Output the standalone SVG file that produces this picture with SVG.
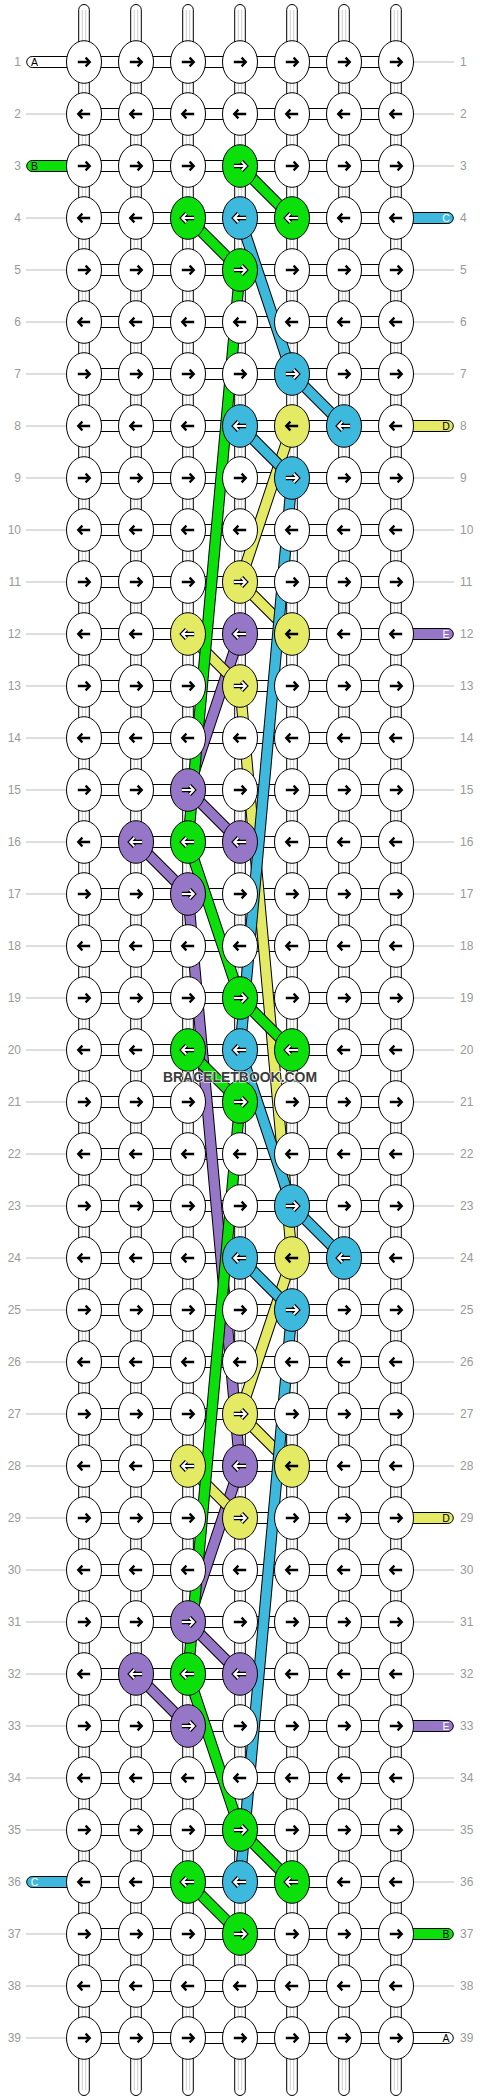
<svg xmlns="http://www.w3.org/2000/svg" width="480" height="2100" viewBox="0 0 480 2100">
<style>
.t{fill:#fff;stroke:#000;stroke-width:1}
.tl{stroke:#cdcdcd;stroke-width:1}
.h{fill:#fff;stroke:#000;stroke-width:1}
.gl{stroke:#bbb;stroke-width:1}
.num{font-family:"Liberation Sans",Arial,sans-serif;font-size:12px;fill:#999}
.numl{text-anchor:end}
.lab{font-family:"Liberation Sans",Arial,sans-serif;font-size:10.5px;text-anchor:middle}
ellipse{rx:17.5px;ry:21.3px;fill:#fff;stroke:#000;stroke-width:1}
.G ellipse{fill:#0be00b}
.B ellipse{fill:#3cb9dc}
.Y ellipse{fill:#e5ea64}
.P ellipse{fill:#9676c6}
.ab{fill:none;stroke:#000;stroke-width:2.3}
.ao{fill:none;stroke:#000;stroke-width:4.3}
.aw{fill:none;stroke:#fff;stroke-width:2}
.ln polyline{fill:none;stroke-linejoin:round}
.ln .o{stroke:#000;stroke-width:11.5}
.cg{stroke:#0be00b;stroke-width:9.5}
.cb{stroke:#3cb9dc;stroke-width:9.5}
.cy{stroke:#e5ea64;stroke-width:9.5}
.cp{stroke:#9676c6;stroke-width:9.5}
.sg{fill:#0be00b;stroke:#000}
.sb{fill:#3cb9dc;stroke:#000}
.sy{fill:#e5ea64;stroke:#000}
.sp{fill:#9676c6;stroke:#000}
.sw{fill:#fff;stroke:#000}
</style>
<defs>
<path id="pr" d="M-6.2,0H5.2M1.6,-4.4L5.8,0L1.6,4.4"/>
<path id="pl" d="M6.2,0H-5.2M-1.6,-4.4L-5.8,0L-1.6,4.4"/>
<g id="R" class="ab"><use href="#pr"/></g>
<g id="L" class="ab"><use href="#pl"/></g>
<g id="RW"><use href="#pr" class="ao"/><use href="#pr" class="aw"/></g>
<g id="LW"><use href="#pl" class="ao"/><use href="#pl" class="aw"/></g>
</defs>
<rect width="480" height="2100" fill="#fff"/>
<g id="strings">
<rect class="t" x="78.7" y="4.5" width="10.6" height="2091" rx="5.3"/>
<rect class="t" x="130.7" y="4.5" width="10.6" height="2091" rx="5.3"/>
<rect class="t" x="182.7" y="4.5" width="10.6" height="2091" rx="5.3"/>
<rect class="t" x="234.7" y="4.5" width="10.6" height="2091" rx="5.3"/>
<rect class="t" x="286.7" y="4.5" width="10.6" height="2091" rx="5.3"/>
<rect class="t" x="338.7" y="4.5" width="10.6" height="2091" rx="5.3"/>
<rect class="t" x="390.7" y="4.5" width="10.6" height="2091" rx="5.3"/>
<path class="tl" d="M82.3,10V2090M85.7,10V2090M134.3,10V2090M137.7,10V2090M186.3,10V2090M189.7,10V2090M238.3,10V2090M241.7,10V2090M290.3,10V2090M293.7,10V2090M342.3,10V2090M345.7,10V2090M394.3,10V2090M397.7,10V2090"/>
</g>
<g id="rows">
<g class="h">
<rect x="84" y="56.5" width="312" height="11"/><rect x="84" y="108.5" width="312" height="11"/><rect x="84" y="160.5" width="312" height="11"/><rect x="84" y="212.5" width="312" height="11"/><rect x="84" y="264.5" width="312" height="11"/><rect x="84" y="316.5" width="312" height="11"/><rect x="84" y="368.5" width="312" height="11"/><rect x="84" y="420.5" width="312" height="11"/><rect x="84" y="472.5" width="312" height="11"/><rect x="84" y="524.5" width="312" height="11"/><rect x="84" y="576.5" width="312" height="11"/><rect x="84" y="628.5" width="312" height="11"/><rect x="84" y="680.5" width="312" height="11"/>
<rect x="84" y="732.5" width="312" height="11"/><rect x="84" y="784.5" width="312" height="11"/><rect x="84" y="836.5" width="312" height="11"/><rect x="84" y="888.5" width="312" height="11"/><rect x="84" y="940.5" width="312" height="11"/><rect x="84" y="992.5" width="312" height="11"/><rect x="84" y="1044.5" width="312" height="11"/><rect x="84" y="1096.5" width="312" height="11"/><rect x="84" y="1148.5" width="312" height="11"/><rect x="84" y="1200.5" width="312" height="11"/><rect x="84" y="1252.5" width="312" height="11"/><rect x="84" y="1304.5" width="312" height="11"/><rect x="84" y="1356.5" width="312" height="11"/>
<rect x="84" y="1408.5" width="312" height="11"/><rect x="84" y="1460.5" width="312" height="11"/><rect x="84" y="1512.5" width="312" height="11"/><rect x="84" y="1564.5" width="312" height="11"/><rect x="84" y="1616.5" width="312" height="11"/><rect x="84" y="1668.5" width="312" height="11"/><rect x="84" y="1720.5" width="312" height="11"/><rect x="84" y="1772.5" width="312" height="11"/><rect x="84" y="1824.5" width="312" height="11"/><rect x="84" y="1876.5" width="312" height="11"/><rect x="84" y="1928.5" width="312" height="11"/><rect x="84" y="1980.5" width="312" height="11"/><rect x="84" y="2032.5" width="312" height="11"/>
</g>
<path class="gl" d="M26,114H68M26,218H68M26,270H68M26,322H68M26,374H68M26,426H68M26,478H68M26,530H68M26,582H68M26,634H68M26,686H68M26,738H68M26,790H68M26,842H68M26,894H68M26,946H68M26,998H68M26,1050H68M26,1102H68M26,1154H68M26,1206H68M26,1258H68M26,1310H68M26,1362H68M26,1414H68M26,1466H68M26,1518H68M26,1570H68M26,1622H68M26,1674H68M26,1726H68M26,1778H68M26,1830H68M26,1934H68M26,1986H68M26,2038H68"/>
<path class="gl" d="M412,62H454M412,114H454M412,166H454M412,270H454M412,322H454M412,374H454M412,478H454M412,530H454M412,582H454M412,686H454M412,738H454M412,790H454M412,842H454M412,894H454M412,946H454M412,998H454M412,1050H454M412,1102H454M412,1154H454M412,1206H454M412,1258H454M412,1310H454M412,1362H454M412,1414H454M412,1466H454M412,1570H454M412,1622H454M412,1674H454M412,1778H454M412,1830H454M412,1882H454M412,1986H454"/>
<g id="stubs">
<path class="sw" d="M68,56.5H32.2a5.5,5.5 0 0 0 0,11H68z"/><text class="lab" x="34.5" y="65.8" fill="#000">A</text>
<path class="sg" d="M68,160.5H32.2a5.5,5.5 0 0 0 0,11H68z"/><text class="lab" x="34.5" y="169.8" fill="#000">B</text>
<path class="sb" d="M68,1876.5H32.2a5.5,5.5 0 0 0 0,11H68z"/><text class="lab" x="34.5" y="1885.8" fill="#fff">C</text>
<path class="sb" d="M412,212.5H447.8a5.5,5.5 0 0 1 0,11H412z"/><text class="lab" x="446" y="221.8" fill="#fff">C</text>
<path class="sy" d="M412,420.5H447.8a5.5,5.5 0 0 1 0,11H412z"/><text class="lab" x="446" y="429.8" fill="#000">D</text>
<path class="sp" d="M412,628.5H447.8a5.5,5.5 0 0 1 0,11H412z"/><text class="lab" x="446" y="637.8" fill="#fff">E</text>
<path class="sy" d="M412,1512.5H447.8a5.5,5.5 0 0 1 0,11H412z"/><text class="lab" x="446" y="1521.8" fill="#000">D</text>
<path class="sp" d="M412,1720.5H447.8a5.5,5.5 0 0 1 0,11H412z"/><text class="lab" x="446" y="1729.8" fill="#fff">E</text>
<path class="sg" d="M412,1928.5H447.8a5.5,5.5 0 0 1 0,11H412z"/><text class="lab" x="446" y="1937.8" fill="#000">B</text>
<path class="sw" d="M412,2032.5H447.8a5.5,5.5 0 0 1 0,11H412z"/><text class="lab" x="446" y="2041.8" fill="#000">A</text>
</g>
<g class="num numl">
<text x="21" y="66.3">1</text><text x="21" y="118.3">2</text><text x="21" y="170.3">3</text><text x="21" y="222.3">4</text><text x="21" y="274.3">5</text><text x="21" y="326.3">6</text><text x="21" y="378.3">7</text><text x="21" y="430.3">8</text><text x="21" y="482.3">9</text><text x="21" y="534.3">10</text><text x="21" y="586.3">11</text><text x="21" y="638.3">12</text><text x="21" y="690.3">13</text>
<text x="21" y="742.3">14</text><text x="21" y="794.3">15</text><text x="21" y="846.3">16</text><text x="21" y="898.3">17</text><text x="21" y="950.3">18</text><text x="21" y="1002.3">19</text><text x="21" y="1054.3">20</text><text x="21" y="1106.3">21</text><text x="21" y="1158.3">22</text><text x="21" y="1210.3">23</text><text x="21" y="1262.3">24</text><text x="21" y="1314.3">25</text><text x="21" y="1366.3">26</text>
<text x="21" y="1418.3">27</text><text x="21" y="1470.3">28</text><text x="21" y="1522.3">29</text><text x="21" y="1574.3">30</text><text x="21" y="1626.3">31</text><text x="21" y="1678.3">32</text><text x="21" y="1730.3">33</text><text x="21" y="1782.3">34</text><text x="21" y="1834.3">35</text><text x="21" y="1886.3">36</text><text x="21" y="1938.3">37</text><text x="21" y="1990.3">38</text><text x="21" y="2042.3">39</text>
</g>
<g class="num">
<text x="460" y="66.3">1</text><text x="460" y="118.3">2</text><text x="460" y="170.3">3</text><text x="460" y="222.3">4</text><text x="460" y="274.3">5</text><text x="460" y="326.3">6</text><text x="460" y="378.3">7</text><text x="460" y="430.3">8</text><text x="460" y="482.3">9</text><text x="460" y="534.3">10</text><text x="460" y="586.3">11</text><text x="460" y="638.3">12</text><text x="460" y="690.3">13</text>
<text x="460" y="742.3">14</text><text x="460" y="794.3">15</text><text x="460" y="846.3">16</text><text x="460" y="898.3">17</text><text x="460" y="950.3">18</text><text x="460" y="1002.3">19</text><text x="460" y="1054.3">20</text><text x="460" y="1106.3">21</text><text x="460" y="1158.3">22</text><text x="460" y="1210.3">23</text><text x="460" y="1262.3">24</text><text x="460" y="1314.3">25</text><text x="460" y="1366.3">26</text>
<text x="460" y="1418.3">27</text><text x="460" y="1470.3">28</text><text x="460" y="1522.3">29</text><text x="460" y="1574.3">30</text><text x="460" y="1626.3">31</text><text x="460" y="1678.3">32</text><text x="460" y="1730.3">33</text><text x="460" y="1782.3">34</text><text x="460" y="1834.3">35</text><text x="460" y="1886.3">36</text><text x="460" y="1938.3">37</text><text x="460" y="1990.3">38</text><text x="460" y="2042.3">39</text>
</g>
</g>
<g id="connectors" class="ln">
<polyline class="o" points="240,634 188,790 240,842"/><polyline class="cp" points="240,634 188,790 240,842"/>
<polyline class="o" points="136,842 188,894 240,1466 188,1622 240,1674"/><polyline class="cp" points="136,842 188,894 240,1466 188,1622 240,1674"/>
<polyline class="o" points="136,1674 188,1726"/><polyline class="cp" points="136,1674 188,1726"/>
<polyline class="o" points="292,426 240,582 292,634"/><polyline class="cy" points="292,426 240,582 292,634"/>
<polyline class="o" points="188,634 240,686 292,1258 240,1414 292,1466"/><polyline class="cy" points="188,634 240,686 292,1258 240,1414 292,1466"/>
<polyline class="o" points="188,1466 240,1518"/><polyline class="cy" points="188,1466 240,1518"/>
<polyline class="o" points="240,218 292,374 344,426"/><polyline class="cb" points="240,218 292,374 344,426"/>
<polyline class="o" points="240,426 292,478 240,1050 292,1206 344,1258"/><polyline class="cb" points="240,426 292,478 240,1050 292,1206 344,1258"/>
<polyline class="o" points="240,1258 292,1310 240,1882"/><polyline class="cb" points="240,1258 292,1310 240,1882"/>
<polyline class="o" points="240,166 292,218"/><polyline class="cg" points="240,166 292,218"/>
<polyline class="o" points="188,218 240,270 188,842 240,998 292,1050"/><polyline class="cg" points="188,218 240,270 188,842 240,998 292,1050"/>
<polyline class="o" points="188,1050 240,1102 188,1674 240,1830 292,1882"/><polyline class="cg" points="188,1050 240,1102 188,1674 240,1830 292,1882"/>
<polyline class="o" points="188,1882 240,1934"/><polyline class="cg" points="188,1882 240,1934"/>
</g>
<g id="nodes">
<g id="n1-1" transform="translate(84 62)"><ellipse/><use href="#R"/></g><g id="n1-2" transform="translate(136 62)"><ellipse/><use href="#R"/></g><g id="n1-3" transform="translate(188 62)"><ellipse/><use href="#R"/></g><g id="n1-4" transform="translate(240 62)"><ellipse/><use href="#R"/></g><g id="n1-5" transform="translate(292 62)"><ellipse/><use href="#R"/></g><g id="n1-6" transform="translate(344 62)"><ellipse/><use href="#R"/></g><g id="n1-7" transform="translate(396 62)"><ellipse/><use href="#R"/></g>
<g id="n2-1" transform="translate(84 114)"><ellipse/><use href="#L"/></g><g id="n2-2" transform="translate(136 114)"><ellipse/><use href="#L"/></g><g id="n2-3" transform="translate(188 114)"><ellipse/><use href="#L"/></g><g id="n2-4" transform="translate(240 114)"><ellipse/><use href="#L"/></g><g id="n2-5" transform="translate(292 114)"><ellipse/><use href="#L"/></g><g id="n2-6" transform="translate(344 114)"><ellipse/><use href="#L"/></g><g id="n2-7" transform="translate(396 114)"><ellipse/><use href="#L"/></g>
<g id="n3-1" transform="translate(84 166)"><ellipse/><use href="#R"/></g><g id="n3-2" transform="translate(136 166)"><ellipse/><use href="#R"/></g><g id="n3-3" transform="translate(188 166)"><ellipse/><use href="#R"/></g><g id="n3-4" class="G" transform="translate(240 166)"><ellipse/><use href="#RW"/></g><g id="n3-5" transform="translate(292 166)"><ellipse/><use href="#R"/></g><g id="n3-6" transform="translate(344 166)"><ellipse/><use href="#R"/></g><g id="n3-7" transform="translate(396 166)"><ellipse/><use href="#R"/></g>
<g id="n4-1" transform="translate(84 218)"><ellipse/><use href="#L"/></g><g id="n4-2" transform="translate(136 218)"><ellipse/><use href="#L"/></g><g id="n4-3" class="G" transform="translate(188 218)"><ellipse/><use href="#LW"/></g><g id="n4-4" class="B" transform="translate(240 218)"><ellipse/><use href="#LW"/></g><g id="n4-5" class="G" transform="translate(292 218)"><ellipse/><use href="#LW"/></g><g id="n4-6" transform="translate(344 218)"><ellipse/><use href="#L"/></g><g id="n4-7" transform="translate(396 218)"><ellipse/><use href="#L"/></g>
<g id="n5-1" transform="translate(84 270)"><ellipse/><use href="#R"/></g><g id="n5-2" transform="translate(136 270)"><ellipse/><use href="#R"/></g><g id="n5-3" transform="translate(188 270)"><ellipse/><use href="#R"/></g><g id="n5-4" class="G" transform="translate(240 270)"><ellipse/><use href="#RW"/></g><g id="n5-5" transform="translate(292 270)"><ellipse/><use href="#R"/></g><g id="n5-6" transform="translate(344 270)"><ellipse/><use href="#R"/></g><g id="n5-7" transform="translate(396 270)"><ellipse/><use href="#R"/></g>
<g id="n6-1" transform="translate(84 322)"><ellipse/><use href="#L"/></g><g id="n6-2" transform="translate(136 322)"><ellipse/><use href="#L"/></g><g id="n6-3" transform="translate(188 322)"><ellipse/><use href="#L"/></g><g id="n6-4" transform="translate(240 322)"><ellipse/><use href="#L"/></g><g id="n6-5" transform="translate(292 322)"><ellipse/><use href="#L"/></g><g id="n6-6" transform="translate(344 322)"><ellipse/><use href="#L"/></g><g id="n6-7" transform="translate(396 322)"><ellipse/><use href="#L"/></g>
<g id="n7-1" transform="translate(84 374)"><ellipse/><use href="#R"/></g><g id="n7-2" transform="translate(136 374)"><ellipse/><use href="#R"/></g><g id="n7-3" transform="translate(188 374)"><ellipse/><use href="#R"/></g><g id="n7-4" transform="translate(240 374)"><ellipse/><use href="#R"/></g><g id="n7-5" class="B" transform="translate(292 374)"><ellipse/><use href="#RW"/></g><g id="n7-6" transform="translate(344 374)"><ellipse/><use href="#R"/></g><g id="n7-7" transform="translate(396 374)"><ellipse/><use href="#R"/></g>
<g id="n8-1" transform="translate(84 426)"><ellipse/><use href="#L"/></g><g id="n8-2" transform="translate(136 426)"><ellipse/><use href="#L"/></g><g id="n8-3" transform="translate(188 426)"><ellipse/><use href="#L"/></g><g id="n8-4" class="B" transform="translate(240 426)"><ellipse/><use href="#LW"/></g><g id="n8-5" class="Y" transform="translate(292 426)"><ellipse/><use href="#L"/></g><g id="n8-6" class="B" transform="translate(344 426)"><ellipse/><use href="#LW"/></g><g id="n8-7" transform="translate(396 426)"><ellipse/><use href="#L"/></g>
<g id="n9-1" transform="translate(84 478)"><ellipse/><use href="#R"/></g><g id="n9-2" transform="translate(136 478)"><ellipse/><use href="#R"/></g><g id="n9-3" transform="translate(188 478)"><ellipse/><use href="#R"/></g><g id="n9-4" transform="translate(240 478)"><ellipse/><use href="#R"/></g><g id="n9-5" class="B" transform="translate(292 478)"><ellipse/><use href="#RW"/></g><g id="n9-6" transform="translate(344 478)"><ellipse/><use href="#R"/></g><g id="n9-7" transform="translate(396 478)"><ellipse/><use href="#R"/></g>
<g id="n10-1" transform="translate(84 530)"><ellipse/><use href="#L"/></g><g id="n10-2" transform="translate(136 530)"><ellipse/><use href="#L"/></g><g id="n10-3" transform="translate(188 530)"><ellipse/><use href="#L"/></g><g id="n10-4" transform="translate(240 530)"><ellipse/><use href="#L"/></g><g id="n10-5" transform="translate(292 530)"><ellipse/><use href="#L"/></g><g id="n10-6" transform="translate(344 530)"><ellipse/><use href="#L"/></g><g id="n10-7" transform="translate(396 530)"><ellipse/><use href="#L"/></g>
<g id="n11-1" transform="translate(84 582)"><ellipse/><use href="#R"/></g><g id="n11-2" transform="translate(136 582)"><ellipse/><use href="#R"/></g><g id="n11-3" transform="translate(188 582)"><ellipse/><use href="#R"/></g><g id="n11-4" class="Y" transform="translate(240 582)"><ellipse/><use href="#RW"/></g><g id="n11-5" transform="translate(292 582)"><ellipse/><use href="#R"/></g><g id="n11-6" transform="translate(344 582)"><ellipse/><use href="#R"/></g><g id="n11-7" transform="translate(396 582)"><ellipse/><use href="#R"/></g>
<g id="n12-1" transform="translate(84 634)"><ellipse/><use href="#L"/></g><g id="n12-2" transform="translate(136 634)"><ellipse/><use href="#L"/></g><g id="n12-3" class="Y" transform="translate(188 634)"><ellipse/><use href="#LW"/></g><g id="n12-4" class="P" transform="translate(240 634)"><ellipse/><use href="#LW"/></g><g id="n12-5" class="Y" transform="translate(292 634)"><ellipse/><use href="#L"/></g><g id="n12-6" transform="translate(344 634)"><ellipse/><use href="#L"/></g><g id="n12-7" transform="translate(396 634)"><ellipse/><use href="#L"/></g>
<g id="n13-1" transform="translate(84 686)"><ellipse/><use href="#R"/></g><g id="n13-2" transform="translate(136 686)"><ellipse/><use href="#R"/></g><g id="n13-3" transform="translate(188 686)"><ellipse/><use href="#R"/></g><g id="n13-4" class="Y" transform="translate(240 686)"><ellipse/><use href="#RW"/></g><g id="n13-5" transform="translate(292 686)"><ellipse/><use href="#R"/></g><g id="n13-6" transform="translate(344 686)"><ellipse/><use href="#R"/></g><g id="n13-7" transform="translate(396 686)"><ellipse/><use href="#R"/></g>
<g id="n14-1" transform="translate(84 738)"><ellipse/><use href="#L"/></g><g id="n14-2" transform="translate(136 738)"><ellipse/><use href="#L"/></g><g id="n14-3" transform="translate(188 738)"><ellipse/><use href="#L"/></g><g id="n14-4" transform="translate(240 738)"><ellipse/><use href="#L"/></g><g id="n14-5" transform="translate(292 738)"><ellipse/><use href="#L"/></g><g id="n14-6" transform="translate(344 738)"><ellipse/><use href="#L"/></g><g id="n14-7" transform="translate(396 738)"><ellipse/><use href="#L"/></g>
<g id="n15-1" transform="translate(84 790)"><ellipse/><use href="#R"/></g><g id="n15-2" transform="translate(136 790)"><ellipse/><use href="#R"/></g><g id="n15-3" class="P" transform="translate(188 790)"><ellipse/><use href="#RW"/></g><g id="n15-4" transform="translate(240 790)"><ellipse/><use href="#R"/></g><g id="n15-5" transform="translate(292 790)"><ellipse/><use href="#R"/></g><g id="n15-6" transform="translate(344 790)"><ellipse/><use href="#R"/></g><g id="n15-7" transform="translate(396 790)"><ellipse/><use href="#R"/></g>
<g id="n16-1" transform="translate(84 842)"><ellipse/><use href="#L"/></g><g id="n16-2" class="P" transform="translate(136 842)"><ellipse/><use href="#LW"/></g><g id="n16-3" class="G" transform="translate(188 842)"><ellipse/><use href="#LW"/></g><g id="n16-4" class="P" transform="translate(240 842)"><ellipse/><use href="#LW"/></g><g id="n16-5" transform="translate(292 842)"><ellipse/><use href="#L"/></g><g id="n16-6" transform="translate(344 842)"><ellipse/><use href="#L"/></g><g id="n16-7" transform="translate(396 842)"><ellipse/><use href="#L"/></g>
<g id="n17-1" transform="translate(84 894)"><ellipse/><use href="#R"/></g><g id="n17-2" transform="translate(136 894)"><ellipse/><use href="#R"/></g><g id="n17-3" class="P" transform="translate(188 894)"><ellipse/><use href="#RW"/></g><g id="n17-4" transform="translate(240 894)"><ellipse/><use href="#R"/></g><g id="n17-5" transform="translate(292 894)"><ellipse/><use href="#R"/></g><g id="n17-6" transform="translate(344 894)"><ellipse/><use href="#R"/></g><g id="n17-7" transform="translate(396 894)"><ellipse/><use href="#R"/></g>
<g id="n18-1" transform="translate(84 946)"><ellipse/><use href="#L"/></g><g id="n18-2" transform="translate(136 946)"><ellipse/><use href="#L"/></g><g id="n18-3" transform="translate(188 946)"><ellipse/><use href="#L"/></g><g id="n18-4" transform="translate(240 946)"><ellipse/><use href="#L"/></g><g id="n18-5" transform="translate(292 946)"><ellipse/><use href="#L"/></g><g id="n18-6" transform="translate(344 946)"><ellipse/><use href="#L"/></g><g id="n18-7" transform="translate(396 946)"><ellipse/><use href="#L"/></g>
<g id="n19-1" transform="translate(84 998)"><ellipse/><use href="#R"/></g><g id="n19-2" transform="translate(136 998)"><ellipse/><use href="#R"/></g><g id="n19-3" transform="translate(188 998)"><ellipse/><use href="#R"/></g><g id="n19-4" class="G" transform="translate(240 998)"><ellipse/><use href="#RW"/></g><g id="n19-5" transform="translate(292 998)"><ellipse/><use href="#R"/></g><g id="n19-6" transform="translate(344 998)"><ellipse/><use href="#R"/></g><g id="n19-7" transform="translate(396 998)"><ellipse/><use href="#R"/></g>
<g id="n20-1" transform="translate(84 1050)"><ellipse/><use href="#L"/></g><g id="n20-2" transform="translate(136 1050)"><ellipse/><use href="#L"/></g><g id="n20-3" class="G" transform="translate(188 1050)"><ellipse/><use href="#LW"/></g><g id="n20-4" class="B" transform="translate(240 1050)"><ellipse/><use href="#LW"/></g><g id="n20-5" class="G" transform="translate(292 1050)"><ellipse/><use href="#LW"/></g><g id="n20-6" transform="translate(344 1050)"><ellipse/><use href="#L"/></g><g id="n20-7" transform="translate(396 1050)"><ellipse/><use href="#L"/></g>
<g id="n21-1" transform="translate(84 1102)"><ellipse/><use href="#R"/></g><g id="n21-2" transform="translate(136 1102)"><ellipse/><use href="#R"/></g><g id="n21-3" transform="translate(188 1102)"><ellipse/><use href="#R"/></g><g id="n21-4" class="G" transform="translate(240 1102)"><ellipse/><use href="#RW"/></g><g id="n21-5" transform="translate(292 1102)"><ellipse/><use href="#R"/></g><g id="n21-6" transform="translate(344 1102)"><ellipse/><use href="#R"/></g><g id="n21-7" transform="translate(396 1102)"><ellipse/><use href="#R"/></g>
<g id="n22-1" transform="translate(84 1154)"><ellipse/><use href="#L"/></g><g id="n22-2" transform="translate(136 1154)"><ellipse/><use href="#L"/></g><g id="n22-3" transform="translate(188 1154)"><ellipse/><use href="#L"/></g><g id="n22-4" transform="translate(240 1154)"><ellipse/><use href="#L"/></g><g id="n22-5" transform="translate(292 1154)"><ellipse/><use href="#L"/></g><g id="n22-6" transform="translate(344 1154)"><ellipse/><use href="#L"/></g><g id="n22-7" transform="translate(396 1154)"><ellipse/><use href="#L"/></g>
<g id="n23-1" transform="translate(84 1206)"><ellipse/><use href="#R"/></g><g id="n23-2" transform="translate(136 1206)"><ellipse/><use href="#R"/></g><g id="n23-3" transform="translate(188 1206)"><ellipse/><use href="#R"/></g><g id="n23-4" transform="translate(240 1206)"><ellipse/><use href="#R"/></g><g id="n23-5" class="B" transform="translate(292 1206)"><ellipse/><use href="#RW"/></g><g id="n23-6" transform="translate(344 1206)"><ellipse/><use href="#R"/></g><g id="n23-7" transform="translate(396 1206)"><ellipse/><use href="#R"/></g>
<g id="n24-1" transform="translate(84 1258)"><ellipse/><use href="#L"/></g><g id="n24-2" transform="translate(136 1258)"><ellipse/><use href="#L"/></g><g id="n24-3" transform="translate(188 1258)"><ellipse/><use href="#L"/></g><g id="n24-4" class="B" transform="translate(240 1258)"><ellipse/><use href="#LW"/></g><g id="n24-5" class="Y" transform="translate(292 1258)"><ellipse/><use href="#L"/></g><g id="n24-6" class="B" transform="translate(344 1258)"><ellipse/><use href="#LW"/></g><g id="n24-7" transform="translate(396 1258)"><ellipse/><use href="#L"/></g>
<g id="n25-1" transform="translate(84 1310)"><ellipse/><use href="#R"/></g><g id="n25-2" transform="translate(136 1310)"><ellipse/><use href="#R"/></g><g id="n25-3" transform="translate(188 1310)"><ellipse/><use href="#R"/></g><g id="n25-4" transform="translate(240 1310)"><ellipse/><use href="#R"/></g><g id="n25-5" class="B" transform="translate(292 1310)"><ellipse/><use href="#RW"/></g><g id="n25-6" transform="translate(344 1310)"><ellipse/><use href="#R"/></g><g id="n25-7" transform="translate(396 1310)"><ellipse/><use href="#R"/></g>
<g id="n26-1" transform="translate(84 1362)"><ellipse/><use href="#L"/></g><g id="n26-2" transform="translate(136 1362)"><ellipse/><use href="#L"/></g><g id="n26-3" transform="translate(188 1362)"><ellipse/><use href="#L"/></g><g id="n26-4" transform="translate(240 1362)"><ellipse/><use href="#L"/></g><g id="n26-5" transform="translate(292 1362)"><ellipse/><use href="#L"/></g><g id="n26-6" transform="translate(344 1362)"><ellipse/><use href="#L"/></g><g id="n26-7" transform="translate(396 1362)"><ellipse/><use href="#L"/></g>
<g id="n27-1" transform="translate(84 1414)"><ellipse/><use href="#R"/></g><g id="n27-2" transform="translate(136 1414)"><ellipse/><use href="#R"/></g><g id="n27-3" transform="translate(188 1414)"><ellipse/><use href="#R"/></g><g id="n27-4" class="Y" transform="translate(240 1414)"><ellipse/><use href="#RW"/></g><g id="n27-5" transform="translate(292 1414)"><ellipse/><use href="#R"/></g><g id="n27-6" transform="translate(344 1414)"><ellipse/><use href="#R"/></g><g id="n27-7" transform="translate(396 1414)"><ellipse/><use href="#R"/></g>
<g id="n28-1" transform="translate(84 1466)"><ellipse/><use href="#L"/></g><g id="n28-2" transform="translate(136 1466)"><ellipse/><use href="#L"/></g><g id="n28-3" class="Y" transform="translate(188 1466)"><ellipse/><use href="#LW"/></g><g id="n28-4" class="P" transform="translate(240 1466)"><ellipse/><use href="#LW"/></g><g id="n28-5" class="Y" transform="translate(292 1466)"><ellipse/><use href="#L"/></g><g id="n28-6" transform="translate(344 1466)"><ellipse/><use href="#L"/></g><g id="n28-7" transform="translate(396 1466)"><ellipse/><use href="#L"/></g>
<g id="n29-1" transform="translate(84 1518)"><ellipse/><use href="#R"/></g><g id="n29-2" transform="translate(136 1518)"><ellipse/><use href="#R"/></g><g id="n29-3" transform="translate(188 1518)"><ellipse/><use href="#R"/></g><g id="n29-4" class="Y" transform="translate(240 1518)"><ellipse/><use href="#RW"/></g><g id="n29-5" transform="translate(292 1518)"><ellipse/><use href="#R"/></g><g id="n29-6" transform="translate(344 1518)"><ellipse/><use href="#R"/></g><g id="n29-7" transform="translate(396 1518)"><ellipse/><use href="#R"/></g>
<g id="n30-1" transform="translate(84 1570)"><ellipse/><use href="#L"/></g><g id="n30-2" transform="translate(136 1570)"><ellipse/><use href="#L"/></g><g id="n30-3" transform="translate(188 1570)"><ellipse/><use href="#L"/></g><g id="n30-4" transform="translate(240 1570)"><ellipse/><use href="#L"/></g><g id="n30-5" transform="translate(292 1570)"><ellipse/><use href="#L"/></g><g id="n30-6" transform="translate(344 1570)"><ellipse/><use href="#L"/></g><g id="n30-7" transform="translate(396 1570)"><ellipse/><use href="#L"/></g>
<g id="n31-1" transform="translate(84 1622)"><ellipse/><use href="#R"/></g><g id="n31-2" transform="translate(136 1622)"><ellipse/><use href="#R"/></g><g id="n31-3" class="P" transform="translate(188 1622)"><ellipse/><use href="#RW"/></g><g id="n31-4" transform="translate(240 1622)"><ellipse/><use href="#R"/></g><g id="n31-5" transform="translate(292 1622)"><ellipse/><use href="#R"/></g><g id="n31-6" transform="translate(344 1622)"><ellipse/><use href="#R"/></g><g id="n31-7" transform="translate(396 1622)"><ellipse/><use href="#R"/></g>
<g id="n32-1" transform="translate(84 1674)"><ellipse/><use href="#L"/></g><g id="n32-2" class="P" transform="translate(136 1674)"><ellipse/><use href="#LW"/></g><g id="n32-3" class="G" transform="translate(188 1674)"><ellipse/><use href="#LW"/></g><g id="n32-4" class="P" transform="translate(240 1674)"><ellipse/><use href="#LW"/></g><g id="n32-5" transform="translate(292 1674)"><ellipse/><use href="#L"/></g><g id="n32-6" transform="translate(344 1674)"><ellipse/><use href="#L"/></g><g id="n32-7" transform="translate(396 1674)"><ellipse/><use href="#L"/></g>
<g id="n33-1" transform="translate(84 1726)"><ellipse/><use href="#R"/></g><g id="n33-2" transform="translate(136 1726)"><ellipse/><use href="#R"/></g><g id="n33-3" class="P" transform="translate(188 1726)"><ellipse/><use href="#RW"/></g><g id="n33-4" transform="translate(240 1726)"><ellipse/><use href="#R"/></g><g id="n33-5" transform="translate(292 1726)"><ellipse/><use href="#R"/></g><g id="n33-6" transform="translate(344 1726)"><ellipse/><use href="#R"/></g><g id="n33-7" transform="translate(396 1726)"><ellipse/><use href="#R"/></g>
<g id="n34-1" transform="translate(84 1778)"><ellipse/><use href="#L"/></g><g id="n34-2" transform="translate(136 1778)"><ellipse/><use href="#L"/></g><g id="n34-3" transform="translate(188 1778)"><ellipse/><use href="#L"/></g><g id="n34-4" transform="translate(240 1778)"><ellipse/><use href="#L"/></g><g id="n34-5" transform="translate(292 1778)"><ellipse/><use href="#L"/></g><g id="n34-6" transform="translate(344 1778)"><ellipse/><use href="#L"/></g><g id="n34-7" transform="translate(396 1778)"><ellipse/><use href="#L"/></g>
<g id="n35-1" transform="translate(84 1830)"><ellipse/><use href="#R"/></g><g id="n35-2" transform="translate(136 1830)"><ellipse/><use href="#R"/></g><g id="n35-3" transform="translate(188 1830)"><ellipse/><use href="#R"/></g><g id="n35-4" class="G" transform="translate(240 1830)"><ellipse/><use href="#RW"/></g><g id="n35-5" transform="translate(292 1830)"><ellipse/><use href="#R"/></g><g id="n35-6" transform="translate(344 1830)"><ellipse/><use href="#R"/></g><g id="n35-7" transform="translate(396 1830)"><ellipse/><use href="#R"/></g>
<g id="n36-1" transform="translate(84 1882)"><ellipse/><use href="#L"/></g><g id="n36-2" transform="translate(136 1882)"><ellipse/><use href="#L"/></g><g id="n36-3" class="G" transform="translate(188 1882)"><ellipse/><use href="#LW"/></g><g id="n36-4" class="B" transform="translate(240 1882)"><ellipse/><use href="#LW"/></g><g id="n36-5" class="G" transform="translate(292 1882)"><ellipse/><use href="#LW"/></g><g id="n36-6" transform="translate(344 1882)"><ellipse/><use href="#L"/></g><g id="n36-7" transform="translate(396 1882)"><ellipse/><use href="#L"/></g>
<g id="n37-1" transform="translate(84 1934)"><ellipse/><use href="#R"/></g><g id="n37-2" transform="translate(136 1934)"><ellipse/><use href="#R"/></g><g id="n37-3" transform="translate(188 1934)"><ellipse/><use href="#R"/></g><g id="n37-4" class="G" transform="translate(240 1934)"><ellipse/><use href="#RW"/></g><g id="n37-5" transform="translate(292 1934)"><ellipse/><use href="#R"/></g><g id="n37-6" transform="translate(344 1934)"><ellipse/><use href="#R"/></g><g id="n37-7" transform="translate(396 1934)"><ellipse/><use href="#R"/></g>
<g id="n38-1" transform="translate(84 1986)"><ellipse/><use href="#L"/></g><g id="n38-2" transform="translate(136 1986)"><ellipse/><use href="#L"/></g><g id="n38-3" transform="translate(188 1986)"><ellipse/><use href="#L"/></g><g id="n38-4" transform="translate(240 1986)"><ellipse/><use href="#L"/></g><g id="n38-5" transform="translate(292 1986)"><ellipse/><use href="#L"/></g><g id="n38-6" transform="translate(344 1986)"><ellipse/><use href="#L"/></g><g id="n38-7" transform="translate(396 1986)"><ellipse/><use href="#L"/></g>
<g id="n39-1" transform="translate(84 2038)"><ellipse/><use href="#R"/></g><g id="n39-2" transform="translate(136 2038)"><ellipse/><use href="#R"/></g><g id="n39-3" transform="translate(188 2038)"><ellipse/><use href="#R"/></g><g id="n39-4" transform="translate(240 2038)"><ellipse/><use href="#R"/></g><g id="n39-5" transform="translate(292 2038)"><ellipse/><use href="#R"/></g><g id="n39-6" transform="translate(344 2038)"><ellipse/><use href="#R"/></g><g id="n39-7" transform="translate(396 2038)"><ellipse/><use href="#R"/></g>
</g>
<text id="watermark" x="240" y="1082" text-anchor="middle" font-family="'Liberation Sans',Arial,sans-serif" font-weight="bold" font-size="15" textLength="154" lengthAdjust="spacingAndGlyphs" fill="#3c3c3c" stroke="#fff" stroke-width="1.2" paint-order="stroke">BRACELETBOOK.COM</text>
</svg>
